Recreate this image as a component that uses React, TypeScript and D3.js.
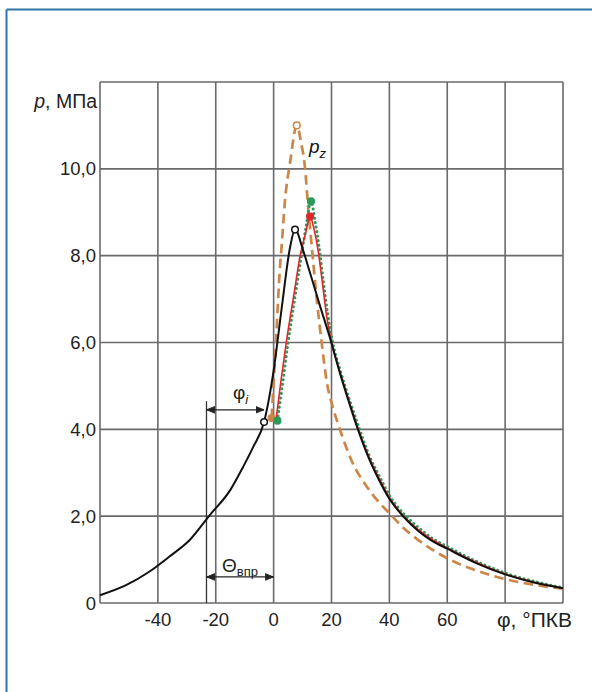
import React from "react";
import * as d3 from "d3";

// ---- data ----
const xTicks = [-40, -20, 0, 20, 40, 60];
const yTicks = [0, 2, 4, 6, 8, 10];
const yTickLabels = ["0", "2,0", "4,0", "6,0", "8,0", "10,0"];
const xGrid = [-60, -40, -20, 0, 20, 40, 60, 80, 100];
const yGrid = [0, 2, 4, 6, 8, 10, 12];

// measured (black solid)
const phiMeasured = [-60, -51, -43, -36, -29, -22, -15, -10.5, -7, -3.3, 0, 2.8, 5.7, 7.4, 10.3, 12.6, 16, 19.5, 22.9, 26.4, 28.5, 33, 37, 40, 45, 50, 55, 60, 70, 80, 90, 100];
const pMeasured = [0.18, 0.41, 0.72, 1.07, 1.45, 2.03, 2.6, 3.14, 3.6, 4.17, 5.35, 6.8, 8.2, 8.6, 8.1, 7.6, 6.85, 6.1, 5.3, 4.55, 4.12, 3.32, 2.76, 2.4, 1.98, 1.66, 1.42, 1.25, 0.92, 0.66, 0.47, 0.34];

// model 1 (red solid)
const phiRed = [0.8, 2.5, 4.5, 7, 9.1, 11, 12.6, 14, 15.3, 16.8, 18.3, 20.1, 23, 26.4, 28.5, 33, 37, 40, 45, 50, 55, 60, 70, 80, 90, 100];
const pRed = [4.2, 5.1, 6.06, 7.1, 7.98, 8.5, 8.9, 8.6, 8.15, 7.4, 6.62, 5.98, 5.3, 4.58, 4.15, 3.35, 2.8, 2.43, 2.0, 1.69, 1.45, 1.27, 0.94, 0.67, 0.48, 0.34];

// model 2 (green dotted)
const phiGreen = [1.3, 3, 5, 7.5, 9.6, 11.3, 12.9, 14.3, 15.7, 17.2, 18.7, 20.4, 23.2, 26.6, 28.7, 33, 37, 40, 45, 50, 55, 60, 70, 80, 90, 100];
const pGreen = [4.2, 5.0, 6.0, 7.1, 8.0, 8.7, 9.25, 8.8, 8.2, 7.4, 6.65, 6.0, 5.32, 4.6, 4.19, 3.4, 2.86, 2.48, 2.05, 1.74, 1.48, 1.3, 0.96, 0.69, 0.5, 0.35];

// model 3 (orange dashed)
const phiOrange = [-0.7, 0.8, 2.2, 2.8, 3.9, 5.7, 8.0, 9.5, 10.8, 12.0, 13.2, 14.9, 16.6, 18.4, 20.5, 22.9, 27, 32.2, 36, 40, 45, 50, 60, 70, 80, 90, 100];
const pOrange = [4.26, 6.0, 7.75, 8.25, 9.25, 10.15, 11.0, 10.6, 10.05, 9.06, 8.2, 7.0, 6.0, 5.08, 4.5, 4.0, 3.27, 2.68, 2.35, 2.07, 1.72, 1.45, 1.03, 0.75, 0.55, 0.42, 0.33];

// markers
const markerPoints = [
  { phi: -3.3, p: 4.17, kind: "open", color: "#111" },
  { phi: 7.4, p: 8.6, kind: "open", color: "#111" },
  { phi: 8.0, p: 11.0, kind: "open", color: "#cc8648" },
  { phi: -0.7, p: 4.26, kind: "fill", color: "#cc8648" },
  { phi: 12.6, p: 8.9, kind: "fill", color: "#e3262c" },
  { phi: 12.9, p: 9.25, kind: "fill", color: "#2a9a5b" },
  { phi: 1.3, p: 4.2, kind: "fill", color: "#2a9a5b" },
];

// annotation angles
const phiStartInjection = -23.2;
const phiIgnition = -3.3;
const phiTDC = 0;

export default function App() {
  const x = d3.scaleLinear().domain([-60, 100]).range([100, 563]);
  const y = d3.scaleLinear().domain([0, 12]).range([603, 82]);
  const line = d3
    .line<[number, number]>()
    .x((d) => x(d[0]))
    .y((d) => y(d[1]))
    .curve(d3.curveMonotoneX);
  const zip = (a: number[], b: number[]) => a.map((v, i) => [v, b[i]] as [number, number]);

  const gridColor = "#6a6a6a";
  const font = "Liberation Sans, Arial, sans-serif";

  const arrowY1 = y(4.45);
  const arrowY2 = y(0.6);

  return (
    <svg
      width={592}
      height={692}
      style={{ position: "absolute", left: 0, top: 0, background: "#fff" }}
      fontFamily={font}
    >
      <defs>
        <marker id="ah" viewBox="0 0 10 10" refX="10" refY="5" markerWidth="7" markerHeight="7" orient="auto-start-reverse">
          <path d="M0,1 L10,5 L0,9 Z" fill="#222" stroke="#222" strokeWidth="1" />
        </marker>
      </defs>
      <rect x={0} y={0} width={592} height={692} fill="#fff" />
      {/* frame */}
      <line x1={6.5} y1={9.5} x2={592} y2={9.5} stroke="#2f74a6" strokeWidth={2} />
      <line x1={6.5} y1={9.5} x2={6.5} y2={692} stroke="#2f74a6" strokeWidth={2} />

      {/* grid */}
      {xGrid.map((v) => (
        <line key={"gx" + v} x1={x(v)} x2={x(v)} y1={y(0)} y2={y(12)} stroke={gridColor} strokeWidth={1.6} />
      ))}
      {yGrid.map((v) => (
        <line key={"gy" + v} x1={x(-60)} x2={x(100)} y1={y(v)} y2={y(v)} stroke={gridColor} strokeWidth={1.6} />
      ))}

      {/* tick labels */}
      {xTicks.map((v) => (
        <text key={"tx" + v} x={x(v)} y={y(0) + 23} textAnchor="middle" fontSize={18.5} fill="#222">
          {v < 0 ? "-" + Math.abs(v) : String(v)}
        </text>
      ))}
      {yTicks.map((v, i) => (
        <text key={"ty" + v} x={x(-60) - 4} y={y(v) + 6.5} textAnchor="end" fontSize={18.5} fill="#222">
          {yTickLabels[i]}
        </text>
      ))}

      {/* axis titles */}
      <text x={97} y={108} textAnchor="end" fontSize={19.5} fill="#222">
        <tspan fontStyle="italic">p</tspan>, МПа
      </text>
      <text x={572} y={y(0) + 24} textAnchor="end" fontSize={21} fill="#222">
        φ, °ПКВ
      </text>

      {/* annotations */}
      <line x1={x(phiStartInjection)} x2={x(phiStartInjection)} y1={y(4.65)} y2={y(0)} stroke="#333" strokeWidth={1.3} />
      <line x1={x(phiStartInjection)} x2={x(phiIgnition)} y1={arrowY1} y2={arrowY1} stroke="#222" strokeWidth={1.2} markerStart="url(#ah)" markerEnd="url(#ah)" />
      <line x1={x(phiStartInjection)} x2={x(phiTDC)} y1={arrowY2} y2={arrowY2} stroke="#222" strokeWidth={1.2} markerStart="url(#ah)" markerEnd="url(#ah)" />
      <text x={233} y={399} fontSize={19} fill="#222">
        φ<tspan fontStyle="italic" fontSize={13} dy={5}>i</tspan>
      </text>
      <text x={222} y={572} fontSize={19} fill="#222">
        Θ<tspan fontSize={13} dy={4}>впр</tspan>
      </text>
      <text x={309} y={153} fontSize={19} fill="#111">
        <tspan fontStyle="italic">p</tspan>
        <tspan fontStyle="italic" fontSize={13} dy={5}>z</tspan>
      </text>

      {/* curves */}
      <path d={line(zip(phiOrange, pOrange)) || ""} fill="none" stroke="#cc8648" strokeWidth={2.7} strokeDasharray="9.5 5.5" />
      <path d={line(zip(phiGreen, pGreen)) || ""} fill="none" stroke="#2a9a5b" strokeWidth={3} strokeDasharray="0.1 4.5" strokeLinecap="round" />
      <path d={line(zip(phiRed, pRed)) || ""} fill="none" stroke="#e3262c" strokeWidth={1.6} />
      <path d={line(zip(phiMeasured, pMeasured)) || ""} fill="none" stroke="#111" strokeWidth={2} />

      {markerPoints.map((m, i) => (
        <circle
          key={"m" + i}
          cx={x(m.phi)}
          cy={y(m.p)}
          r={3.3}
          fill={m.kind === "open" ? "#fff" : m.color}
          stroke={m.color}
          strokeWidth={1.5}
        />
      ))}
    </svg>
  );
}
